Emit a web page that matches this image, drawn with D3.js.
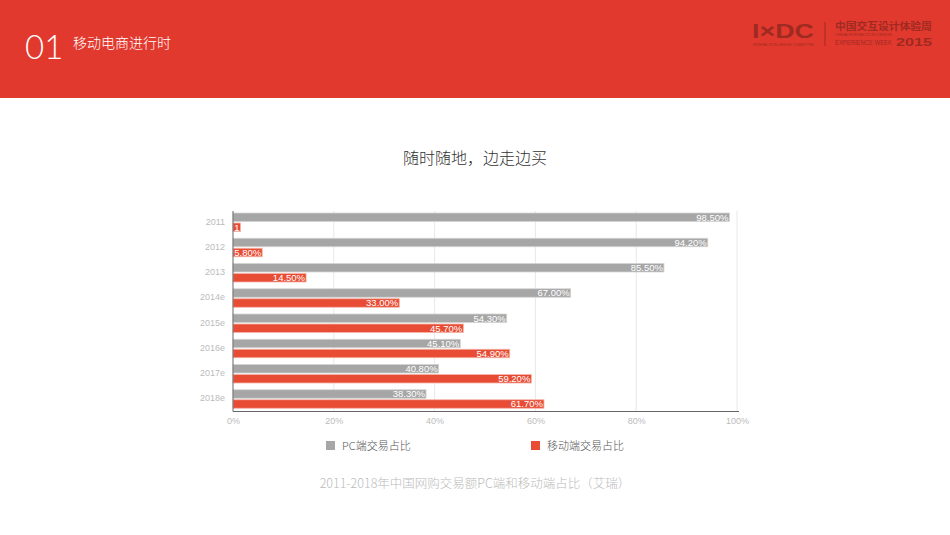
<!DOCTYPE html>
<html><head><meta charset="utf-8">
<script src="https://cdn.jsdelivr.net/npm/d3@7"></script>
<style>
html,body{margin:0;padding:0;background:#fff;}
svg{display:block;font-family:"Noto Sans CJK SC","Noto Sans",sans-serif;}
</style></head>
<body><svg id="c" width="950" height="535"></svg>
<script>
const categories = ["2011","2012","2013","2014e","2015e","2016e","2017e","2018e"];
const pcValues = [98.5, 94.2, 85.5, 67.0, 54.3, 45.1, 40.8, 38.3];
const mobileValues = [1.5, 5.8, 14.5, 33.0, 45.7, 54.9, 59.2, 61.7];
const pcLabels = ["98.50%","94.20%","85.50%","67.00%","54.30%","45.10%","40.80%","38.30%"];
const mobileLabels = ["1","5.80%","14.50%","33.00%","45.70%","54.90%","59.20%","61.70%"];
const xTicks = [0,20,40,60,80,100];
const seriesNames = ["PC端交易占比","移动端交易占比"];

const svg = d3.select("#c");
const red = "#e2392e", gray = "#a6a6a6", barRed = "#e84c35";

// header
svg.append("rect").attr("x",0).attr("y",0).attr("width",950).attr("height",98).attr("fill",red);
svg.append("text").attr("x",25).attr("y",59).attr("fill","#fff")
  .attr("font-family","Lato, 'Open Sans', sans-serif").attr("font-weight",300)
  .attr("font-size",33).text("01");
svg.append("text").attr("x",73).attr("y",48).attr("fill","#fff").attr("font-size",14).attr("font-weight",300).text("移动电商进行时");

// logo (text fitted by scaling so boxes do not collide)
const lg = svg.append("g").attr("fill","#9e2a22");
function fitText(txt, x0, yb, size, width, opts) {
  const t = lg.append("text").attr("x",0).attr("y",0).attr("font-size",size).text(txt);
  if (opts && opts.family) t.attr("font-family", opts.family);
  if (opts && opts.bold) t.attr("font-weight","bold");
  const w = t.node().getComputedTextLength();
  t.attr("transform",`translate(${x0},${yb}) scale(${width / w},1)`);
}
fitText("I×DC", 752, 38, 21, 62, {family:"Liberation Sans, Arial, sans-serif", bold:true});
fitText("INTERACTION DESIGN COMMITTEE", 753, 45.5, 3.2, 61, {family:"Liberation Sans"});
lg.append("rect").attr("x",824.5).attr("y",22).attr("width",1).attr("height",24);
fitText("中国交互设计体验周", 835, 30, 10, 97, {bold:true});
fitText("CHINA INTERACTION DESIGN", 835, 36.3, 3.6, 57, {family:"Liberation Sans"});
fitText("EXPERIENCE WEEK", 835, 45, 8, 57, {family:"Liberation Sans"});
fitText("2015", 896, 45.5, 11.5, 36, {family:"Liberation Sans", bold:true});

// title
svg.append("text").attr("x",475).attr("y",164).attr("text-anchor","middle").attr("fill","#333").attr("font-size",16).attr("font-weight",300).text("随时随地，边走边买");

// chart
const x = d3.scaleLinear().domain([0,100]).range([233,737]);
const y = d3.scaleBand().domain(categories).range([211,413]).paddingInner(0).paddingOuter(0);

// grid
svg.append("g").selectAll("line").data(xTicks.slice(1)).join("line")
  .attr("x1",d=>x(d)).attr("x2",d=>x(d)).attr("y1",211).attr("y2",411)
  .attr("stroke","#e8e8e8").attr("stroke-width",1);

const bh = 8.5;
const g = svg.append("g");
categories.forEach((c,i)=>{
  const y0 = y(c)+2;
  g.append("rect").attr("x",x(0)).attr("y",y0).attr("width",x(pcValues[i])-x(0)).attr("height",bh)
    .attr("fill",gray).attr("stroke","#d4d4d4").attr("stroke-width",0.8);
  g.append("rect").attr("x",x(0)).attr("y",y0+bh+1.5).attr("width",x(mobileValues[i])-x(0)).attr("height",bh)
    .attr("fill",barRed).attr("stroke","#f5b5aa").attr("stroke-width",0.8);
  g.append("text").attr("x",x(pcValues[i])-1).attr("y",y0+bh-0.8).attr("text-anchor","end")
    .attr("fill","#fff").attr("font-size",9.5).attr("font-family","Liberation Sans, Arial, sans-serif").text(pcLabels[i]);
  g.append("text").attr("x",x(mobileValues[i])-1).attr("y",y0+2*bh+0.7).attr("text-anchor","end")
    .attr("fill","#fff").attr("font-size",9.5).attr("font-family","Liberation Sans, Arial, sans-serif").text(mobileLabels[i]);
});

// axes
const yAxis = d3.axisLeft(y).tickSize(0).tickPadding(8);
const ya = svg.append("g").attr("transform",`translate(${x(0)},0)`).call(yAxis);
ya.select(".domain").attr("stroke","#666").attr("d","M0,211V411.5");
ya.selectAll("text").attr("fill","#bbb").attr("font-size",9).attr("font-family","Liberation Sans, Arial, sans-serif").attr("dy","0.1em");

const xAxis = d3.axisBottom(x).tickValues(xTicks).tickFormat(d=>d+"%").tickSize(0).tickPadding(6);
const xa = svg.append("g").attr("transform","translate(0,411.5)").call(xAxis);
xa.select(".domain").attr("stroke","#666").attr("d","M233,0H739");
xa.selectAll("text").attr("fill","#bbb").attr("font-size",9).attr("font-family","Liberation Sans, Arial, sans-serif");

// legend
const legX = [326, 531];
[gray, barRed].forEach((col,i)=>{
  svg.append("rect").attr("x",legX[i]).attr("y",441).attr("width",9).attr("height",9).attr("fill",col);
  svg.append("text").attr("x",legX[i]+16).attr("y",450).attr("fill","#555").attr("font-size",11).attr("font-weight",300).text(seriesNames[i]);
});

// caption
svg.append("text").attr("x",475).attr("y",488).attr("text-anchor","middle").attr("fill","#bbb").attr("font-size",12.5).attr("font-weight",300)
  .text("2011-2018年中国网购交易额PC端和移动端占比（艾瑞）");
</script></body></html>
